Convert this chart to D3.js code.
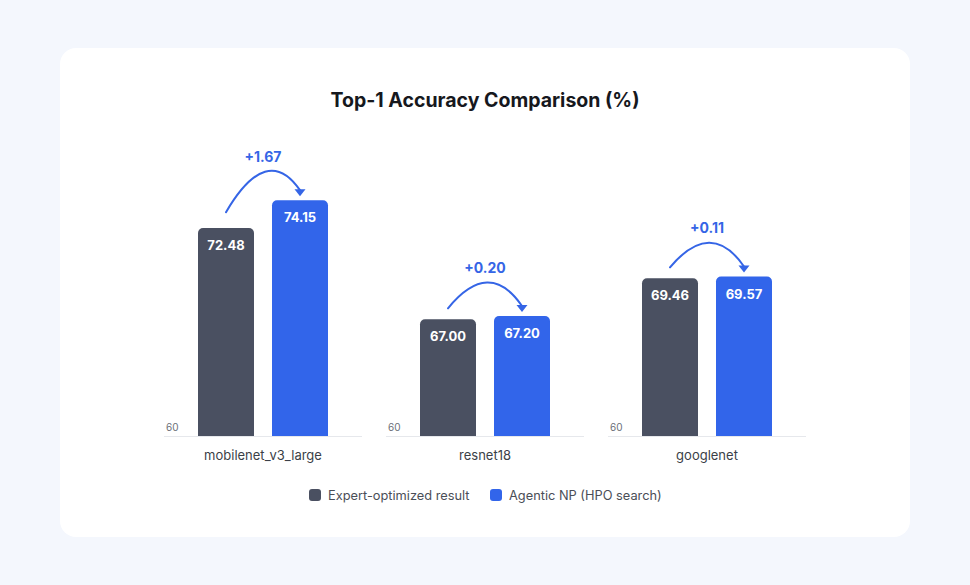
<!DOCTYPE html>
<html><head><meta charset="utf-8">
<script src="https://cdn.jsdelivr.net/npm/d3@7"></script>
<style>
html,body{margin:0;padding:0;background:#f4f7fd;}
svg{display:block;font-family:Inter, "Noto Sans", sans-serif;}
</style></head>
<body>
<script>
const categories = ["mobilenet_v3_large", "resnet18", "googlenet"];
const seriesNames = ["Expert-optimized result", "Agentic NP (HPO search)"];
const expertValues = [72.48, 67.00, 69.46];
const agenticValues = [74.15, 67.20, 69.57];
const baseTick = 60;
const colors = ["#4a5061", "#3265ea"];

const W = 970, H = 585;
const svg = d3.select("body").append("svg").attr("width", W).attr("height", H);

svg.append("rect").attr("x", 60).attr("y", 48).attr("width", 850).attr("height", 489)
  .attr("rx", 16).attr("fill", "#ffffff");

svg.append("text").attr("x", 485).attr("y", 107).attr("text-anchor", "middle")
  .attr("font-size", 19.5).attr("font-weight", 700).attr("fill", "#16181d")
  .text("Top-1 Accuracy Comparison (%)");

const x0 = d3.scaleBand().domain(categories).range([164, 806]).paddingInner(24/222).paddingOuter(0);
const x1 = d3.scaleBand().domain(seriesNames).range([34, 164]).paddingInner(18/74).paddingOuter(0);
const y = d3.scaleLinear().domain([60, 75]).range([436, 186]);

function topRounded(x, yTop, w, h, r) {
  const p = d3.path();
  p.moveTo(x, yTop + h);
  p.lineTo(x, yTop + r);
  p.arcTo(x, yTop, x + r, yTop, r);
  p.lineTo(x + w - r, yTop);
  p.arcTo(x + w, yTop, x + w, yTop + r, r);
  p.lineTo(x + w, yTop + h);
  p.closePath();
  return p.toString();
}

categories.forEach((cat, i) => {
  const g = svg.append("g").attr("transform", `translate(${x0(cat)},0)`);
  const bw = x0.bandwidth();
  g.append("line").attr("x1", 0).attr("x2", bw).attr("y1", y(baseTick) + 0.5).attr("y2", y(baseTick) + 0.5)
    .attr("stroke", "#e6e8ec").attr("stroke-width", 1);
  g.append("text").attr("x", 2).attr("y", y(baseTick) - 5).attr("font-size", 10).attr("fill", "#6b6f78")
    .text(String(baseTick));
  const vals = [expertValues[i], agenticValues[i]];
  vals.forEach((v, j) => {
    const bx = x1(seriesNames[j]);
    const top = y(v);
    g.append("path").attr("d", topRounded(bx, top, x1.bandwidth(), y(baseTick) - top, 5))
      .attr("fill", colors[j]);
    g.append("text").attr("x", bx + x1.bandwidth() / 2).attr("y", top + 22)
      .attr("text-anchor", "middle").attr("font-size", 13).attr("font-weight", 700)
      .attr("fill", "#ffffff").text(v.toFixed(2));
  });
  const cx1 = x1(seriesNames[0]) + x1.bandwidth() / 2;
  const cx2 = x1(seriesNames[1]) + x1.bandwidth() / 2;
  const t1 = y(vals[0]), t2 = y(vals[1]);
  const minTop = Math.min(t1, t2);
  const sy = Math.min(t1 - 11, minTop + 12);
  const tipY = t2 - 4;
  const ey = tipY - 7;
  const ctrlY = minTop - 58;
  const p = d3.path();
  p.moveTo(cx1, sy);
  p.quadraticCurveTo((cx1 + cx2) / 2 + 4, ctrlY, cx2, ey + 1);
  g.append("path").attr("d", p.toString()).attr("fill", "none").attr("stroke", "#3565e6")
    .attr("stroke-width", 2).attr("stroke-linecap", "round");
  const a = d3.path();
  a.moveTo(cx2 - 5.5, ey); a.lineTo(cx2 + 5.5, ey); a.lineTo(cx2, tipY); a.closePath();
  g.append("path").attr("d", a.toString()).attr("fill", "#3565e6");
  const peakY = (sy + 2 * ctrlY + ey) / 4;
  const diff = vals[1] - vals[0];
  g.append("text").attr("x", bw / 2).attr("y", peakY - 9).attr("text-anchor", "middle")
    .attr("font-size", 14).attr("font-weight", 700).attr("fill", "#3565e6")
    .text("+" + diff.toFixed(2));
  g.append("text").attr("x", bw / 2).attr("y", y(baseTick) + 24).attr("text-anchor", "middle")
    .attr("font-size", 13).attr("fill", "#3b3f47").text(cat);
});

const legendX = [309, 490];
seriesNames.forEach((s, j) => {
  svg.append("rect").attr("x", legendX[j]).attr("y", 489).attr("width", 12).attr("height", 12)
    .attr("rx", 3).attr("fill", colors[j]);
  svg.append("text").attr("x", legendX[j] + 19).attr("y", 499.5).attr("font-size", 12.8)
    .attr("fill", "#4a4e57").text(s);
});
</script>
</body></html>
